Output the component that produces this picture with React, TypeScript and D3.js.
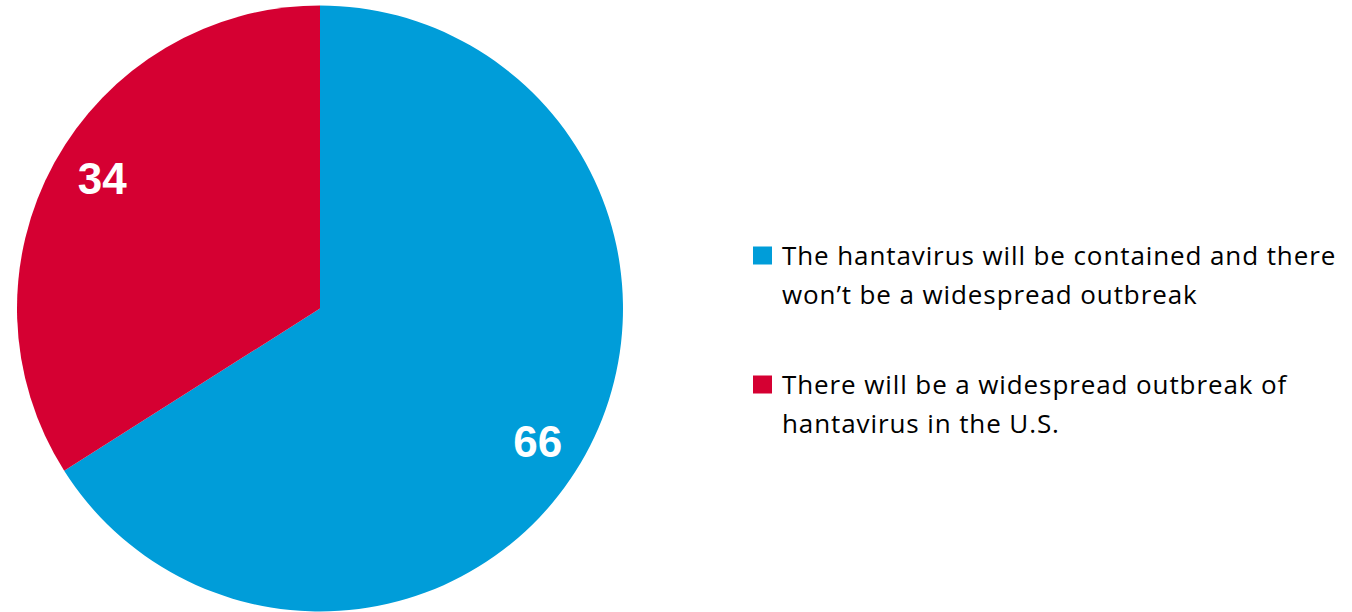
import React from "react";
import * as d3 from "d3";

const categories = [
  "The hantavirus will be contained and there won\u2019t be a widespread outbreak",
  "There will be a widespread outbreak of hantavirus in the U.S.",
];
const values = [66, 34];
const colors = ["#009DD9", "#D50032"];
const legendLines = [
  ["The hantavirus will be contained and there", "won\u2019t be a widespread outbreak"],
  ["There will be a widespread outbreak of", "hantavirus in the U.S."],
];

const W = 1352;
const H = 612;

export default function App() {
  const cx = 320;
  const cy = 308.5;
  const r = 303;
  const pie = d3.pie<number>().sort(null).value((d) => d);
  const arcs = pie(values);
  const arc = d3.arc<d3.PieArcDatum<number>>().innerRadius(0).outerRadius(r);
  const labelArc = d3.arc<d3.PieArcDatum<number>>().innerRadius(r * 1.64).outerRadius(0);
  return (
    <svg
      width={W}
      height={H}
      style={{ position: "absolute", left: 0, top: 0, background: "#fff" }}
    >
      <g transform={`translate(${cx},${cy})`}>
        {arcs.map((a, i) => (
          <path key={i} d={arc(a) || ""} fill={colors[i]} />
        ))}
        {arcs.map((a, i) => {
          const [x, y] = labelArc.centroid(a);
          return (
            <text
              key={"l" + i}
              x={x}
              y={y + (i === 0 ? 13 : -10)}
              textAnchor="middle"
              dominantBaseline="central"
              fill="#fff"
              fontFamily="Liberation Sans, Arial, sans-serif"
              fontWeight="bold"
              fontSize={44}
            >
              {values[i]}
            </text>
          );
        })}
      </g>
      {categories.map((c, i) => {
        const y0 = 264.5 + i * 129;
        return (
          <g key={"lg" + i}>
            <title>{c}</title>
            <rect x={753} y={y0 - 18} width={19} height={18} fill={colors[i]} />
            {legendLines[i].map((t, j) => (
              <text
                key={j}
                x={782}
                y={y0 + j * 39.5}
                fill="#000"
                fontFamily="Open Sans, sans-serif"
                fontSize={26}
                letterSpacing={0.9}
              >
                {t}
              </text>
            ))}
          </g>
        );
      })}
    </svg>
  );
}
